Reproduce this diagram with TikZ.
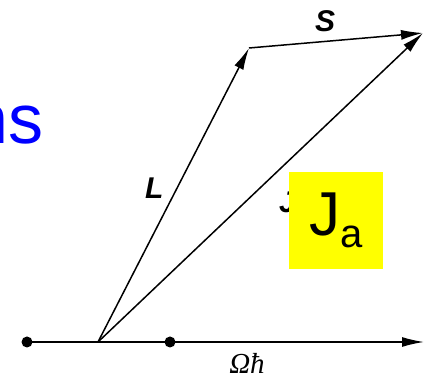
\documentclass[tikz,border=0pt]{standalone}
\usepackage{amsmath,amssymb}
\usepackage{fontspec}
\usepackage{tikz}
\usetikzlibrary{arrows.meta,positioning}
\newfontfamily\arialfont{Liberation Sans}
\newfontfamily\timesfont{Liberation Serif}
\definecolor{nsblue}{RGB}{0,0,255}
\definecolor{jyellow}{RGB}{255,255,0}

\begin{document}
\begin{tikzpicture}[x=1pt,y=-1pt,>={Latex[length=22pt,width=10pt]},
    vec/.style={->,line width=1.5pt},
    dot/.style={circle,fill=black,inner sep=0pt,minimum size=11pt},
    vlabel/.style={inner sep=0pt,font=\arialfont\bfseries\itshape\fontsize{30}{34}\selectfont}]
    \useasboundingbox (0,0) rectangle (424,382);
    % axis with the two dots
    \node[dot] (d1) at (27,342) {};
    \node[dot] (d2) at (170,342) {};
    \coordinate (o) at (98,342);
    \coordinate (axend) at (424,342);
    \coordinate (ltip) at (249,48);
    \coordinate (stip) at (423,33);
    \draw[vec] (d1.center)--(axend);
    % coupling triangle
    \draw[vec] (o)--(ltip);
    \draw[vec] (ltip)--(stip);
    \draw[vec] (o)--(stip);
    \node[vlabel,anchor=base west] (llab) at (145,199) {L};
    \node[vlabel,anchor=base west] (slab) at (315,32) {S};
    \node[vlabel,anchor=base west] (jlab) at (279,213) {J};
    \node[inner sep=0pt,text depth=0pt,anchor=base,font=\timesfont\itshape\fontsize{29}{32}\selectfont] (omega) at (247,374) {Ωħ};
    % slide overlays
    \node[inner sep=0pt,anchor=base east,text=nsblue,font=\arialfont\fontsize{70}{80}\selectfont] (ns) at (44,144) {ns};
    \node[fill=jyellow,minimum width=94pt,minimum height=97pt,inner sep=0pt] (ja) at (336,220.5)
      {\arialfont\fontsize{62}{70}\selectfont J\raisebox{-12pt}{\fontsize{40}{44}\selectfont a}};
\end{tikzpicture}
\end{document}
